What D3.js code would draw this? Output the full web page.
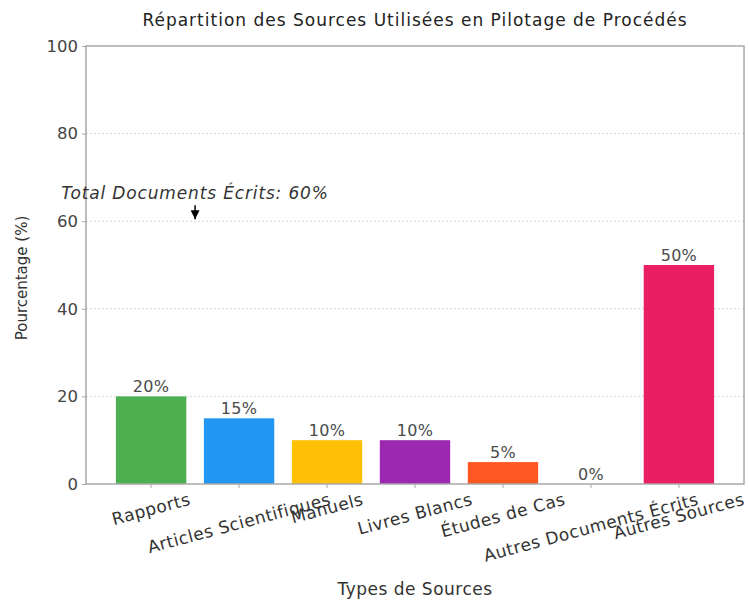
<!DOCTYPE html>
<html>
<head>
<meta charset="utf-8">
<script src="https://cdn.jsdelivr.net/npm/d3@7"></script>
<style>
  body { margin: 0; background: #fff; }
  text { font-family: "DejaVu Sans", sans-serif; }
</style>
</head>
<body>
<div id="chart"></div>
<script>
// data
var categories = ["Rapports", "Articles Scientifiques", "Manuels", "Livres Blancs", "Études de Cas", "Autres Documents Écrits", "Autres Sources"];
var values = [20, 15, 10, 10, 5, 0, 50];
var barColors = ["#4caf50", "#2196f3", "#ffc107", "#9c27b0", "#ff5722", "#795548", "#e91e63"];
var yTicks = [0, 20, 40, 60, 80, 100];
var writtenCount = 6; // first six categories are written documents

var width = 749, height = 601;
var plot = { left: 86, right: 744, top: 46, bottom: 484 };

var svg = d3.select("#chart").append("svg")
    .attr("width", width)
    .attr("height", height);

var x = d3.scaleBand()
    .domain(categories)
    .range([plot.left, plot.right])
    .paddingInner(0.2)
    .paddingOuter(0.34);

var y = d3.scaleLinear()
    .domain([0, 100])
    .range([plot.bottom, plot.top]);

// grid lines (dotted)
svg.append("g")
    .selectAll("line")
    .data(yTicks.filter(function (d) { return d > 0 && d < 100; }))
    .enter().append("line")
    .attr("x1", plot.left).attr("x2", plot.right)
    .attr("y1", function (d) { return y(d); })
    .attr("y2", function (d) { return y(d); })
    .attr("stroke", "#d8d8d8")
    .attr("stroke-width", 1)
    .attr("stroke-dasharray", "2,2");

// bars
svg.append("g")
    .selectAll("rect")
    .data(categories)
    .enter().append("rect")
    .attr("x", function (d) { return x(d); })
    .attr("width", x.bandwidth())
    .attr("y", function (d, i) { return y(values[i]); })
    .attr("height", function (d, i) { return y(0) - y(values[i]); })
    .attr("fill", function (d, i) { return barColors[i]; });

// value labels
svg.append("g")
    .selectAll("text")
    .data(categories)
    .enter().append("text")
    .attr("x", function (d) { return x(d) + x.bandwidth() / 2; })
    .attr("y", function (d, i) { return y(values[i]) - 4; })
    .attr("text-anchor", "middle")
    .attr("font-size", 16)
    .attr("letter-spacing", 0.3)
    .attr("fill", "#4a4a4a")
    .text(function (d, i) { return values[i] + "%"; });

// frame
svg.append("rect")
    .attr("x", plot.left).attr("y", plot.top)
    .attr("width", plot.right - plot.left)
    .attr("height", plot.bottom - plot.top)
    .attr("fill", "none")
    .attr("stroke", "#a8a8a8")
    .attr("stroke-width", 1.5);

// y axis
var yAxis = svg.append("g")
    .attr("transform", "translate(" + plot.left + ",0)")
    .call(d3.axisLeft(y).tickValues(yTicks).tickSize(4).tickPadding(4));
yAxis.select(".domain").remove();
yAxis.selectAll(".tick line").attr("stroke", "#a8a8a8");
yAxis.selectAll(".tick text")
    .attr("font-size", 16.5)
    .attr("fill", "#444")
    .style("font-family", "\"DejaVu Sans\", sans-serif");

// x axis ticks
var xAxis = svg.append("g")
    .attr("transform", "translate(0," + plot.bottom + ")")
    .call(d3.axisBottom(x).tickSize(4).tickFormat(""));
xAxis.select(".domain").remove();
xAxis.selectAll(".tick line").attr("stroke", "#a8a8a8");

// rotated x labels, bbox centred under each tick
var angle = 15 * Math.PI / 180;
var labelTop = 492;
var labelSize = 17;
svg.append("g")
    .selectAll("text")
    .data(categories)
    .enter().append("text")
    .attr("font-size", labelSize)
    .attr("letter-spacing", 0.5)
    .attr("fill", "#333")
    .attr("text-anchor", "middle")
    .attr("dominant-baseline", "central")
    .text(function (d) { return d; })
    .each(function (d) {
        var w = this.getComputedTextLength();
        var h = labelSize * 0.8;
        var bh = w * Math.sin(angle) + h * Math.cos(angle);
        var cx = x(d) + x.bandwidth() / 2;
        var cy = labelTop + bh / 2;
        d3.select(this).attr("transform", "translate(" + cx + "," + cy + ") rotate(-15)");
    });

// axis titles
svg.append("text")
    .attr("x", (plot.left + plot.right) / 2)
    .attr("y", 595)
    .attr("text-anchor", "middle")
    .attr("font-size", 17)
    .attr("letter-spacing", 0.5)
    .attr("fill", "#333")
    .text("Types de Sources");

svg.append("text")
    .attr("transform", "translate(27," + 278 + ") rotate(-90)")
    .attr("text-anchor", "middle")
    .attr("font-size", 15)
    .attr("fill", "#333")
    .text("Pourcentage (%)");

// title
svg.append("text")
    .attr("x", (plot.left + plot.right) / 2)
    .attr("y", 26)
    .attr("text-anchor", "middle")
    .attr("font-size", 17)
    .attr("letter-spacing", 1)
    .attr("fill", "#222")
    .text("Répartition des Sources Utilisées en Pilotage de Procédés");

// annotation for written documents
var totalWritten = d3.sum(values.slice(0, writtenCount));
var annX = (x(categories[0]) + x(categories[1])) / 2 + x.bandwidth() / 2;
svg.append("defs").append("marker")
    .attr("id", "arrowHead")
    .attr("viewBox", "0 0 10 10")
    .attr("refX", 10).attr("refY", 5)
    .attr("markerWidth", 9).attr("markerHeight", 9)
    .attr("markerUnits", "userSpaceOnUse")
    .attr("orient", "auto")
    .append("path")
    .attr("d", "M0,0L10,5L0,10z")
    .attr("fill", "#000");

svg.append("line")
    .attr("x1", annX).attr("x2", annX)
    .attr("y1", y(65) + 6)
    .attr("y2", y(60) - 2)
    .attr("stroke", "#000")
    .attr("stroke-width", 1.5)
    .attr("marker-end", "url(#arrowHead)");

svg.append("text")
    .attr("x", annX)
    .attr("y", y(65))
    .attr("text-anchor", "middle")
    .attr("font-size", 17)
    .attr("letter-spacing", 0.85)
    .attr("font-style", "italic")
    .attr("fill", "#333")
    .text("Total Documents Écrits: " + totalWritten + "%");
</script>
</body>
</html>
